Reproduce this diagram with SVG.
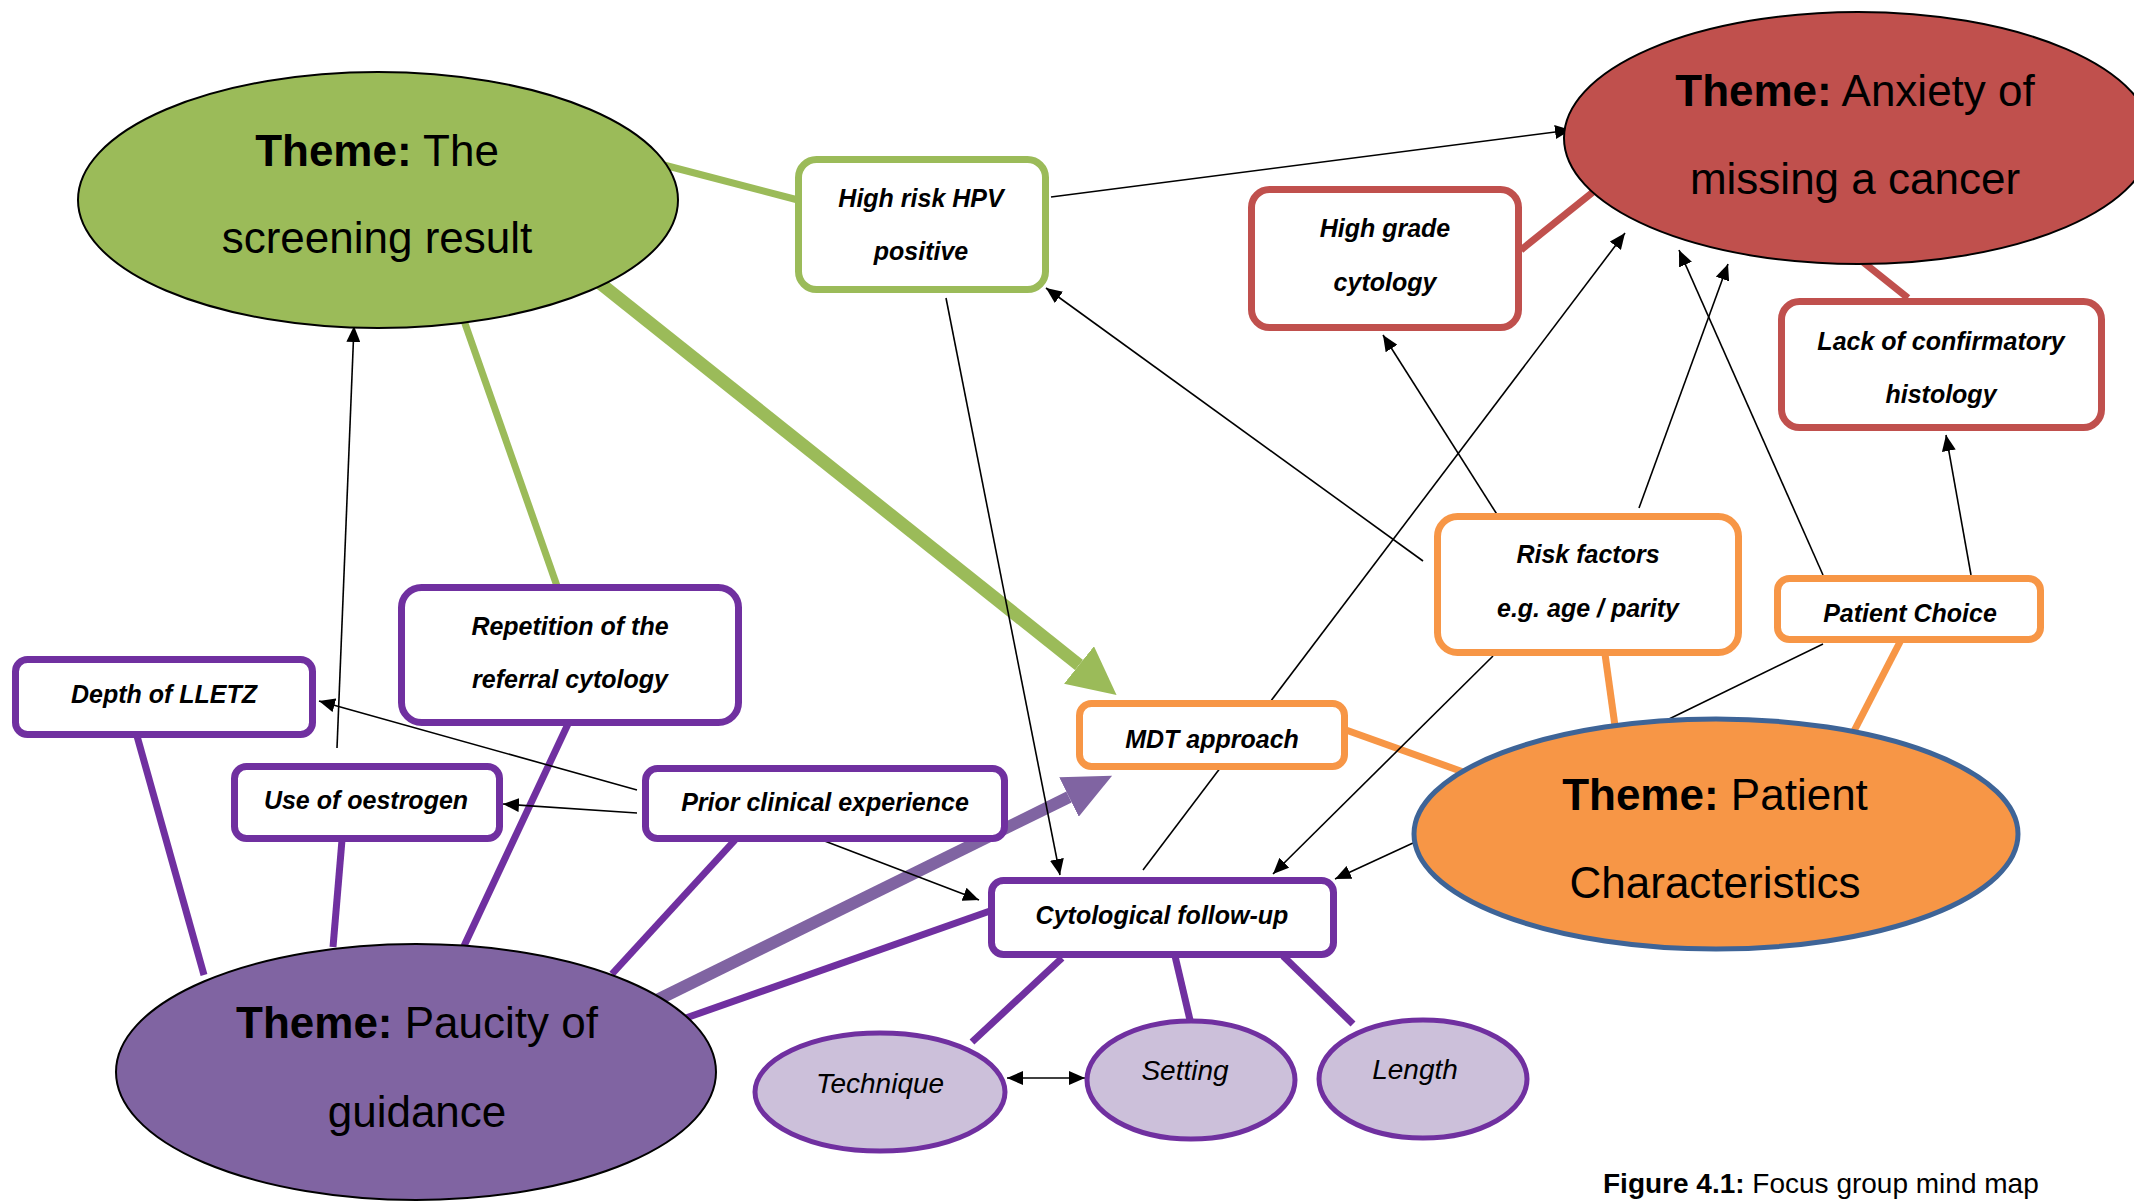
<svg xmlns="http://www.w3.org/2000/svg" width="2134" height="1202" viewBox="0 0 2134 1202">
<style>
.box{fill:#fff;stroke-width:7}
.g{stroke:#9BBB59}.r{stroke:#C0504D}.p{stroke:#7030A0}.o{stroke:#F79646}
.lt{font-family:"Liberation Sans",Arial,sans-serif;font-size:25px;font-weight:bold;font-style:italic;fill:#000;text-anchor:middle}
.th{font-family:"Liberation Sans",Arial,sans-serif;font-size:44px;fill:#000;text-anchor:middle}
.sm{font-family:"Liberation Sans",Arial,sans-serif;font-size:28px;font-style:italic;fill:#000;text-anchor:middle}
.thin{stroke:#000;stroke-width:1.6;fill:none;marker-end:url(#ah)}
.thick{stroke-width:7;fill:none}
</style>
<defs>
<marker id="ah" markerUnits="userSpaceOnUse" markerWidth="18" markerHeight="14" refX="16" refY="7" orient="auto"><path d="M0,0 L16,7 L0,14 z" fill="#000"/></marker>
<marker id="ahs" markerUnits="userSpaceOnUse" markerWidth="18" markerHeight="14" refX="0" refY="7" orient="auto"><path d="M16,0 L0,7 L16,14 z" fill="#000"/></marker>
<marker id="gah" markerUnits="userSpaceOnUse" markerWidth="50" markerHeight="48" refX="0" refY="24" orient="auto"><path d="M0,0 L48,24 L0,48 z" fill="#9BBB59"/></marker>
<marker id="pah" markerUnits="userSpaceOnUse" markerWidth="50" markerHeight="44" refX="0" refY="22" orient="auto"><path d="M0,0 L48,22 L0,44 z" fill="#8064A2"/></marker>
</defs>
<rect width="2134" height="1202" fill="#fff"/>
<g id="connectors">
<line class="thick g" x1="660" y1="164" x2="798" y2="200"/>
<line class="thick g" x1="462" y1="315" x2="557" y2="586"/>
<line x1="596" y1="280" x2="1079" y2="665" stroke="#9BBB59" stroke-width="13" marker-end="url(#gah)"/>
<line x1="655" y1="1001" x2="1069" y2="797" stroke="#8064A2" stroke-width="12" marker-end="url(#pah)"/>
<line class="thick r" x1="1521" y1="250" x2="1598" y2="188"/>
<line class="thick r" x1="1908" y1="298" x2="1858" y2="258"/>
<line class="thick p" x1="137" y1="736" x2="204" y2="975"/>
<line class="thick p" x1="342" y1="840" x2="333" y2="947"/>
<line class="thick p" x1="568" y1="724" x2="464" y2="946"/>
<line class="thick p" x1="735" y1="840" x2="612" y2="974"/>
<line class="thick p" x1="990" y1="911" x2="683" y2="1019"/>
<line class="thick p" x1="1062" y1="958" x2="972" y2="1042"/>
<line class="thick p" x1="1175" y1="956" x2="1190" y2="1020"/>
<line class="thick p" x1="1283" y1="956" x2="1353" y2="1024"/>
<line class="thick o" x1="1346" y1="730" x2="1466" y2="773"/>
<line class="thick o" x1="1605" y1="654" x2="1615" y2="726"/>
<line class="thick o" x1="1901" y1="640" x2="1853" y2="733"/>
<line class="thin" x1="1051" y1="197" x2="1571" y2="130"/>
<line class="thin" x1="1423" y1="561" x2="1046" y2="288"/>
<line class="thin" x1="1498" y1="516" x2="1383" y2="335"/>
<line class="thin" x1="1639" y1="508" x2="1728" y2="264"/>
<line class="thin" x1="1143" y1="870" x2="1625" y2="233"/>
<line class="thin" x1="1823" y1="575" x2="1679" y2="250"/>
<line class="thin" x1="1971" y1="575" x2="1946" y2="435"/>
<line x1="1823" y1="644" x2="1667" y2="720" stroke="#000" stroke-width="1.6"/>
<line class="thin" x1="946" y1="298" x2="1060" y2="875"/>
<line class="thin" x1="1493" y1="656" x2="1273" y2="874"/>
<line class="thin" x1="1413" y1="843" x2="1335" y2="879"/>
<line class="thin" x1="637" y1="790" x2="319" y2="701"/>
<line class="thin" x1="637" y1="813" x2="503" y2="804"/>
<line class="thin" x1="822" y1="840" x2="979" y2="900"/>
<line class="thin" x1="337" y1="748" x2="354" y2="326"/>
<line class="thin" x1="1007" y1="1078" x2="1085" y2="1078" marker-start="url(#ahs)"/>
</g>
<g id="theme-screening">
<ellipse cx="378" cy="200" rx="300" ry="128" fill="#9BBB59" stroke="#000" stroke-width="2"/>
<text class="th" x="377" y="166"><tspan font-weight="bold">Theme:</tspan> The</text>
<text class="th" x="377" y="253">screening result</text>
</g>
<g id="theme-anxiety">
<ellipse cx="1858" cy="138" rx="294" ry="126" fill="#C0504D" stroke="#000" stroke-width="2"/>
<text class="th" x="1855" y="106"><tspan font-weight="bold">Theme:</tspan> Anxiety of</text>
<text class="th" x="1855" y="194">missing a cancer</text>
</g>
<g id="theme-paucity">
<ellipse cx="416" cy="1072" rx="300" ry="128" fill="#8064A2" stroke="#000" stroke-width="2"/>
<text class="th" x="417" y="1038"><tspan font-weight="bold">Theme:</tspan> Paucity of</text>
<text class="th" x="417" y="1127">guidance</text>
</g>
<g id="theme-patient">
<ellipse cx="1716" cy="834" rx="302" ry="115" fill="#F79646" stroke="#3E6497" stroke-width="5"/>
<text class="th" x="1715" y="810"><tspan font-weight="bold">Theme:</tspan> Patient</text>
<text class="th" x="1715" y="898">Characteristics</text>
</g>
<g id="hpv">
<rect class="box g" x="798.5" y="159.5" width="247" height="130" rx="18"/>
<text class="lt" x="921" y="207">High risk HPV</text>
<text class="lt" x="921" y="260">positive</text>
</g>
<g id="high-grade">
<rect class="box r" x="1251.5" y="189.5" width="267" height="138" rx="18"/>
<text class="lt" x="1385" y="237">High grade</text>
<text class="lt" x="1385" y="291">cytology</text>
</g>
<g id="lack-histology">
<rect class="box r" x="1781.5" y="301.5" width="320" height="126" rx="18"/>
<text class="lt" x="1941" y="350">Lack of confirmatory</text>
<text class="lt" x="1941" y="403">histology</text>
</g>
<g id="risk-factors">
<rect class="box o" x="1437.5" y="516.5" width="301" height="136" rx="20"/>
<text class="lt" x="1588" y="563">Risk factors</text>
<text class="lt" x="1588" y="617">e.g. age / parity</text>
</g>
<g id="patient-choice">
<rect class="box o" x="1777.5" y="578.5" width="263" height="61" rx="12"/>
<text class="lt" x="1910" y="622">Patient Choice</text>
</g>
<g id="mdt">
<rect class="box o" x="1079.5" y="703.5" width="265" height="63" rx="12"/>
<text class="lt" x="1212" y="748">MDT approach</text>
</g>
<g id="cytological-follow-up">
<rect class="box p" x="991.5" y="880.5" width="342" height="74" rx="12"/>
<text class="lt" x="1162" y="924">Cytological follow-up</text>
</g>
<g id="prior-clinical">
<rect class="box p" x="645.5" y="768.5" width="359" height="70" rx="12"/>
<text class="lt" x="825" y="811">Prior clinical experience</text>
</g>
<g id="repetition">
<rect class="box p" x="401.5" y="587.5" width="337" height="135" rx="20"/>
<text class="lt" x="570" y="635">Repetition of the</text>
<text class="lt" x="570" y="688">referral cytology</text>
</g>
<g id="depth-lletz">
<rect class="box p" x="15.5" y="659.5" width="297" height="75" rx="12"/>
<text class="lt" x="164" y="703">Depth of LLETZ</text>
</g>
<g id="oestrogen">
<rect class="box p" x="234.5" y="766.5" width="265" height="72" rx="12"/>
<text class="lt" x="366" y="809">Use of oestrogen</text>
</g>
<g id="technique">
<ellipse cx="880" cy="1092" rx="125" ry="59" fill="#CCC0DA" stroke="#7030A0" stroke-width="5"/>
<text class="sm" x="880" y="1093">Technique</text>
</g>
<g id="setting">
<ellipse cx="1191" cy="1080" rx="104" ry="59" fill="#CCC0DA" stroke="#7030A0" stroke-width="5"/>
<text class="sm" x="1185" y="1080">Setting</text>
</g>
<g id="length">
<ellipse cx="1423" cy="1079" rx="104" ry="59" fill="#CCC0DA" stroke="#7030A0" stroke-width="5"/>
<text class="sm" x="1415" y="1079">Length</text>
</g>
<text x="1603" y="1193" font-family="Liberation Sans, Arial, sans-serif" font-size="28" fill="#000"><tspan font-weight="bold">Figure 4.1:</tspan> Focus group mind map</text>
</svg>
